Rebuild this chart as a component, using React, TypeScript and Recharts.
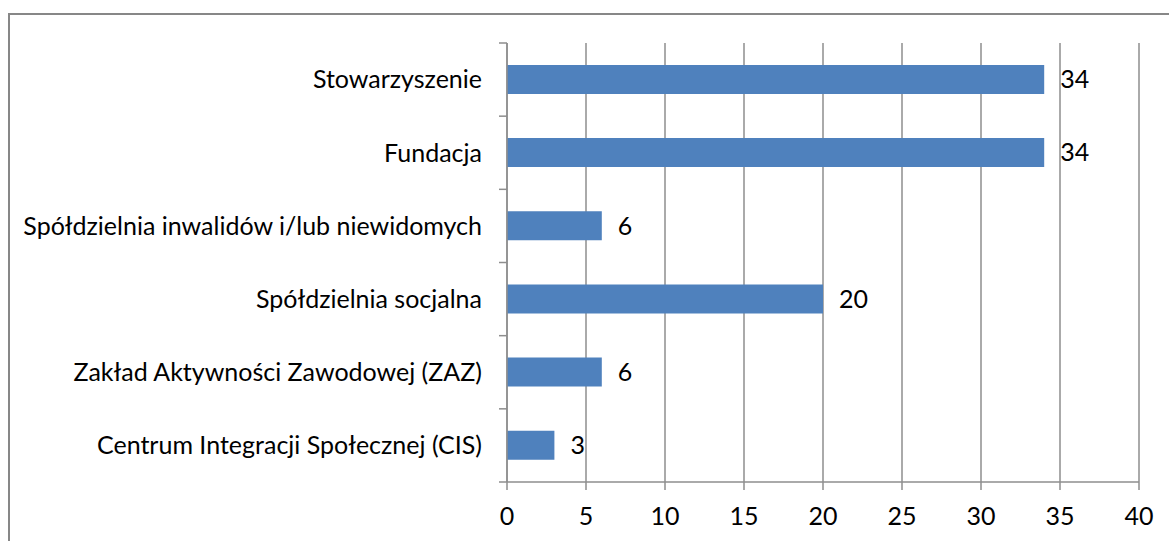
import { Bar, BarChart, CartesianGrid, LabelList, XAxis, YAxis } from 'recharts';

const categories = [
  'Stowarzyszenie',
  'Fundacja',
  'Spółdzielnia inwalidów i/lub niewidomych',
  'Spółdzielnia socjalna',
  'Zakład Aktywności Zawodowej (ZAZ)',
  'Centrum Integracji Społecznej (CIS)',
];
const counts = [34, 34, 6, 20, 6, 3];
const xTicks = [0, 5, 10, 15, 20, 25, 30, 35, 40];

const data = categories.map((name, i) => ({ name, value: counts[i] }));

const FONT = 'Lato, "Liberation Sans", sans-serif';
const FS = 25;
const GRID = '#8e8e8e';

// category ticks sit on the band edges, not the centres
function CategoryTick(props: any) {
  const { x, y, payload, index } = props;
  const axisX = x + 24;
  const half = payload.offset ?? 0;
  return (
    <g>
      <line x1={axisX - 8} x2={axisX} y1={y - half} y2={y - half} stroke={GRID} strokeWidth={1.5} />
      {index === categories.length - 1 && (
        <line x1={axisX - 8} x2={axisX} y1={y + half} y2={y + half} stroke={GRID} strokeWidth={1.5} />
      )}
      <text x={x - 1} y={y} dy="0.35em" textAnchor="end" fill="#000" fontSize={FS} fontFamily={FONT}>
        {payload.value}
      </text>
    </g>
  );
}

export default function App() {
  return (
    <div
      style={{
        position: 'absolute',
        left: 0,
        top: 0,
        width: 1169,
        height: 541,
        overflow: 'hidden',
        background: '#fff',
      }}
    >
      <div
        style={{
          position: 'absolute',
          left: 8,
          top: 13,
          width: 1200,
          height: 600,
          borderLeft: '2px solid #878787',
          borderTop: '2px solid #878787',
        }}
      />
      <div style={{ position: 'absolute', left: 0, top: 0 }}>
        <BarChart
          width={1169}
          height={541}
          data={data}
          layout="vertical"
          barCategoryGap="30%"
          margin={{ top: 43, right: 30, bottom: 9, left: 0 }}
        >
          <CartesianGrid horizontal={false} stroke={GRID} strokeWidth={1.5} />
          <XAxis
            type="number"
            domain={[0, 40]}
            ticks={xTicks}
            interval={0}
            height={50}
            axisLine={{ stroke: GRID, strokeWidth: 1.5 }}
            tickLine={{ stroke: GRID, strokeWidth: 1.5 }}
            tickSize={8}
            tickMargin={17}
            tick={{ fill: '#000', fontSize: FS, fontFamily: FONT }}
          />
          <YAxis
            type="category"
            dataKey="name"
            width={507}
            interval={0}
            axisLine={{ stroke: GRID, strokeWidth: 1.5 }}
            tickLine={false}
            tickSize={8}
            tickMargin={16}
            tick={<CategoryTick />}
          />
          <Bar dataKey="value" fill="#4f81bd" isAnimationActive={false}>
            <LabelList
              dataKey="value"
              position="right"
              offset={16}
              fill="#000"
              fontSize={FS}
              fontFamily={FONT}
            />
          </Bar>
        </BarChart>
      </div>
    </div>
  );
}
